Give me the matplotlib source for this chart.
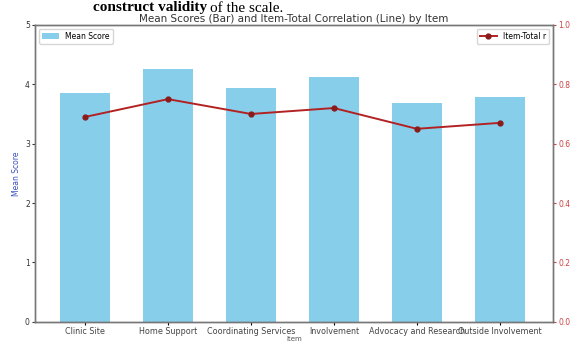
import matplotlib
matplotlib.use('Agg')
import matplotlib.pyplot as plt
import numpy as np

# Dados
items = ['Clinic Site', 'Home Support', 'Coordinating Services', 'Involvement',
         'Advocacy and Research', 'Outside Involvement']
mean_scores = [3.86, 4.25, 3.93, 4.12, 3.69, 3.78]
item_total_r = [0.69, 0.75, 0.70, 0.72, 0.65, 0.67]

fig = plt.figure(figsize=(5.7, 3.46), dpi=100)
ax1 = fig.add_axes([0.062, 0.07, 0.908, 0.858])

x = np.arange(len(items))
ax1.bar(x, mean_scores, width=0.6, color='#87CEEB', label='Mean Score')
ax1.set_ylim(0, 5)
ax1.set_xlim(-0.6, len(items) - 0.36)
ax1.set_xticks(x)
ax1.set_xticklabels(items, fontsize=5.8, color='#444444')
ax1.set_ylabel('Mean Score', fontsize=5.5, color='#3a4fbf', labelpad=3)
ax1.set_xlabel('Item', fontsize=5, color='#555555', labelpad=0)
ax1.tick_params(axis='y', labelsize=5.5, colors='#333333', length=2, pad=2)
ax1.tick_params(axis='x', length=2, pad=2)
ax1.set_title('Mean Scores (Bar) and Item-Total Correlation (Line) by Item',
              fontsize=7.5, color='#333333', pad=2)
for s in ax1.spines.values():
    s.set_color('#777777')
    s.set_linewidth(1.0)

ax2 = ax1.twinx()
ax2.plot(x, item_total_r, color='#b22222', marker='o', markersize=3.5,
         markerfacecolor='#8b1a1a', markeredgecolor='#8b1a1a', linewidth=1.4,
         label='Item-Total r')
ax2.set_ylim(0, 1.0)
ax2.set_yticks([0.0, 0.2, 0.4, 0.6, 0.8, 1.0])
ax2.tick_params(axis='y', labelsize=5.5, colors='#cc4444', length=2, pad=2)
for s in ax2.spines.values():
    s.set_color('#777777')
    s.set_linewidth(1.0)

ax1.legend(loc='upper left', fontsize=5.5, frameon=True, handlelength=2.2)
ax2.legend(loc='upper right', fontsize=5.5, frameon=True, handlelength=2.2)

# texto do artigo no topo
t1 = fig.text(93 / 570, 1 - 11.5 / 346, 'construct validity', fontsize=11, fontweight='bold',
              family='Liberation Serif', ha='left', va='baseline')
fig.canvas.draw()
bb = t1.get_window_extent()
fig.text(bb.x1 / 570 + 0.005, 1 - 11.5 / 346, 'of the scale.', fontsize=11,
         family='Liberation Serif', ha='left', va='baseline')

fig.savefig('out.png', dpi=100)
